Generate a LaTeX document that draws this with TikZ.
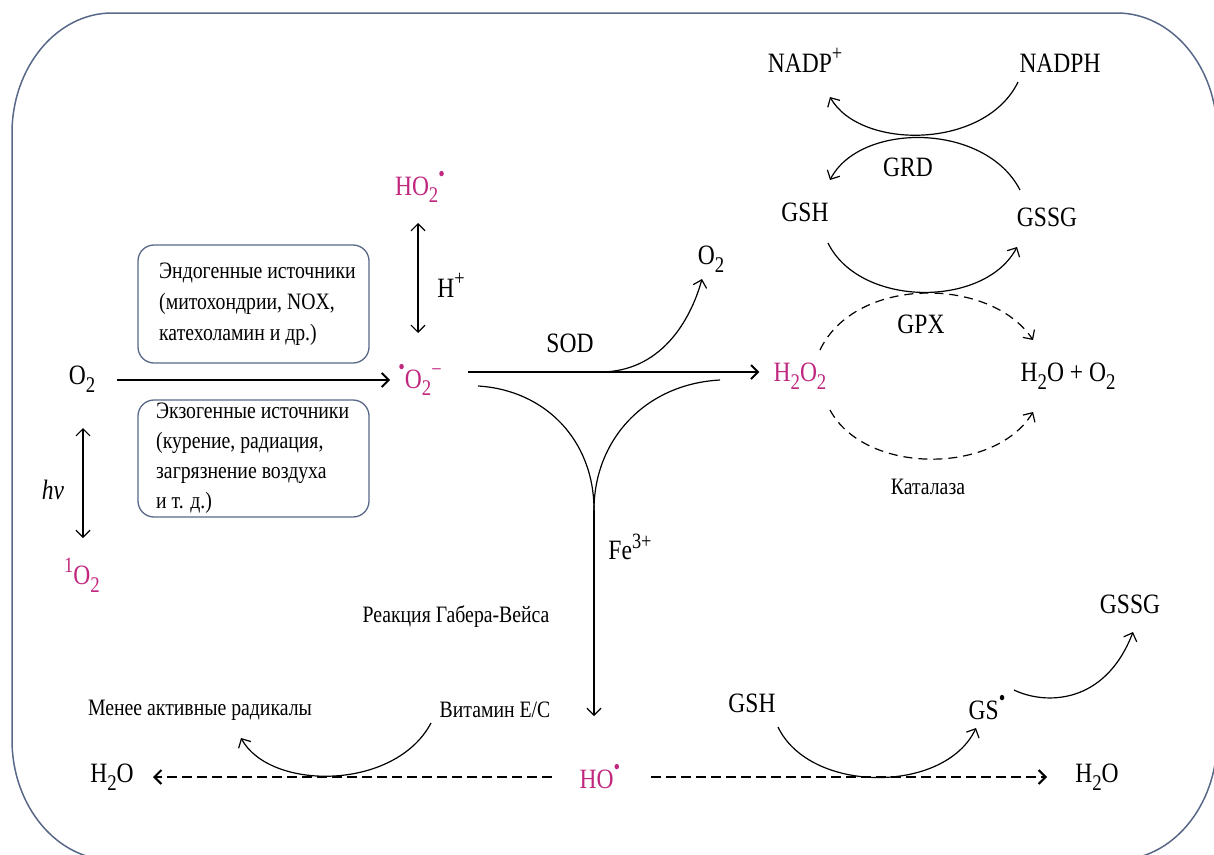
\documentclass[tikz,border=0pt]{standalone}
\usepackage{fontspec}
\setmainfont[FakeStretch=0.84]{Liberation Serif}
\usepackage{graphicx}
\usetikzlibrary{arrows.meta}
\definecolor{mag}{RGB}{192,40,128}
\definecolor{framec}{RGB}{88,104,136}
\newcommand{\lo}[1]{\raisebox{-0.28em}{\scalebox{0.8}{#1}}}
\newcommand{\hi}[1]{\raisebox{0.42em}{\scalebox{0.78}{#1}}}
\newcommand{\rad}{\raisebox{0.5em}{\scalebox{0.8}{•}}}
\begin{document}
\begin{tikzpicture}[x=1pt,y=-1pt,
  lbl/.style={inner sep=0pt, font=\fontsize{28}{31}\selectfont},
  rx/.style={lbl, text=mag},
  sm/.style={inner sep=0pt, font=\fontsize{23.5}{31}\selectfont, align=left},
  srcbox/.style={draw=framec, line width=1.3pt, rounded corners=16pt, minimum width=231pt, inner sep=0pt},
  tip/.tip={Straight Barb[length=7pt,width=14pt]},
  arr/.style={line width=1.2pt, -tip},
  darr/.style={line width=1.2pt, tip-tip},
  dsh/.style={arr, dash pattern=on 9pt off 6pt},
  frm/.style={draw=framec, line width=1.5pt}
]
\useasboundingbox (0,0) rectangle (1214,854);
% outer frame
\begin{scope}
\clip (0,0) rectangle (1214,854);
\draw[frm] (112,13) -- (1117,13)
  .. controls (1172,13) and (1217,67) .. (1217,133)
  -- (1217,740)
  .. controls (1217,806) and (1172,860) .. (1117,860)
  -- (112,860)
  .. controls (57,860) and (12,806) .. (12,740)
  -- (12,133)
  .. controls (12,67) and (57,13) .. cycle;
\end{scope}

% source boxes
\node[srcbox, minimum height=118pt] (endo) at (253.5,304) {};
\node[srcbox, minimum height=117pt] (exo) at (253.5,458.5) {};
\node[sm, anchor=west] (endotxt) at (159,304) {Эндогенные источники\\(митохондрии, NOX,\\катехоламин и др.)};
\node[sm, anchor=west, font=\fontsize{23.5}{30}\selectfont] (exotxt) at (156,458) {Экзогенные источники\\(курение, радиация,\\загрязнение воздуха\\и т. д.)};

% labels
\node[lbl] (o2) at (82,379) {O\lo{2}};
\node[rx] (sup) at (420,380) {\rad O\lo{2}\hi{−}};
\node[rx] (ho2) at (420,187) {HO\lo{2}\rad};
\node[lbl] (hp) at (451,285) {H\hi{+}};
\node[lbl] (sod) at (570,343) {SOD};
\node[lbl] (o2b) at (711,259) {O\lo{2}};
\node[rx] (h2o2) at (800,376) {H\lo{2}O\lo{2}};
\node[lbl] (h2oo2) at (1068,376) {H\lo{2}O + O\lo{2}};
\node[lbl] (gpx) at (921,324) {GPX};
\node[sm] (kat) at (928,487) {Каталаза};
\node[lbl] (nadpp) at (805,60) {NADP\hi{+}};
\node[lbl] (nadph) at (1060,63) {NADPH};
\node[lbl] (grd) at (908,167) {GRD};
\node[lbl] (gsh1) at (805,212) {GSH};
\node[lbl] (gssg1) at (1047,217) {GSSG};
\node[lbl, font=\fontsize{28}{31}\selectfont\itshape] (hv) at (53,490) {hν};
\node[rx] (so2) at (82,575) {\hi{1}O\lo{2}};
\node[lbl] (fe) at (630,547) {Fe\hi{3+}};
\node[sm] (hw) at (456,617) {Реакция Габера-Вейса};
\node[sm] (menee) at (200,710) {Менее активные радикалы};
\node[sm] (vit) at (495,710) {Витамин Е/С};
\node[rx] (ho) at (600,777) {HO\rad};
\node[lbl] (h2ol) at (112,777) {H\lo{2}O};
\node[lbl] (h2or) at (1097,777) {H\lo{2}O};
\node[lbl] (gsh2) at (752,703) {GSH};
\node[lbl] (gs) at (987,708) {GS\rad};
\node[lbl] (gssg2) at (1130,604) {GSSG};

% coordinates for curve ends
\coordinate (merge) at (594,510);
\coordinate (sodstart) at (600,372);
\coordinate (o2tip) at (702,279);

% straight arrows
\draw[arr, line width=2pt] ([xshift=22pt]o2.east |- 0,380) -- ([xshift=-8pt]sup.west |- 0,380);
\draw[arr, line width=2pt] (468,372) -- ([xshift=-14pt]h2o2.west |- 0,372);
\draw[darr] (418,223) -- (418,333);
\draw[darr] (83,428) -- (83,538);
% SOD -> O2
\draw[arr] (sodstart) .. controls (660,372) and (690,322) .. (o2tip);
% Haber-Weiss
\draw[line width=1.2pt] (478,386) .. controls (545,390) and (594,440) .. (merge);
\draw[line width=1.2pt] (720,380) .. controls (645,384) and (594,440) .. (merge);
\draw[arr] (merge) -- (594,716);
% glutathione cycle
\draw[arr] (1018,82) .. controls (985,150) and (860,150) .. (830,97);
\draw[arr] (1020,190) .. controls (985,122) and (860,122) .. (830,180);
\draw[arr] (828,243) .. controls (860,308) and (985,308) .. (1017,247);
\draw[dsh] (820,350) .. controls (855,276) and (990,276) .. (1033,340);
\draw[dsh] (830,410) .. controls (865,475) and (995,475) .. (1033,412);
% bottom
\draw[dsh, line width=2pt, dash pattern=on 10pt off 5pt] (552,777) -- (153,777);
\draw[dsh, line width=2pt, dash pattern=on 10pt off 5pt] (651,777) -- (1047,777);
\draw[arr] (431,723) .. controls (395,791) and (270,791) .. (241,738);
\draw[arr] (778,727) .. controls (810,794) and (945,794) .. (976,728);
\draw[arr] (1014,690) .. controls (1045,705) and (1105,705) .. (1133,632);
\end{tikzpicture}
\end{document}
